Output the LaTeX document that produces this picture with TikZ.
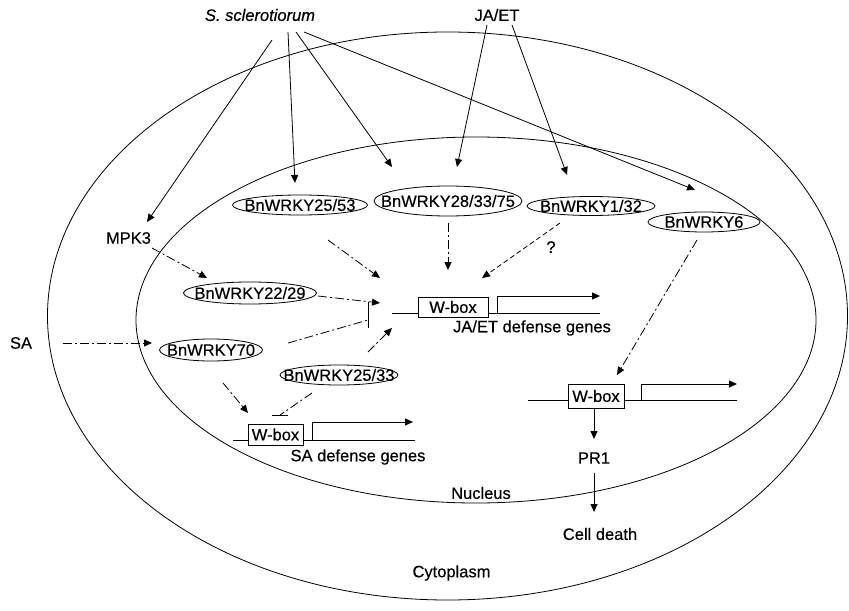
\documentclass[tikz,border=0pt]{standalone}
\usepackage{fontspec}
\setmainfont{Liberation Sans}[FakeBold=0.4]
\usetikzlibrary{shapes.geometric,arrows.meta,calc}
\begin{document}
\begin{tikzpicture}[x=1bp,y=-1bp, line width=0.8bp,
  every node/.style={font=\fontsize{16.5bp}{19bp}\selectfont},
  lbl/.style={inner sep=0pt},
  wk/.style={draw, ellipse, inner sep=0pt},
  wbox/.style={draw, fill=white, inner sep=0pt},
  tip/.style={-{Triangle[length=8bp,width=7bp]}},
  dd/.style={dash pattern=on 9bp off 3bp on 2bp off 3bp},
  ds/.style={dash pattern=on 5bp off 3bp}]
\useasboundingbox (0,0) rectangle (849,611);
\fill[white] (0,0) rectangle (849,611);
% compartments
\draw (447.5,316) ellipse [x radius=400bp, y radius=284bp];
\draw (476,320) ellipse [x radius=340bp, y radius=183bp];
% text labels
\node[lbl] (ss) at (260,15) {\textit{S. sclerotiorum}};
\node[lbl] (jaet) at (497,15) {JA/ET};
\node[lbl] (mpk) at (128.5,238) {MPK3};
\node[lbl] (sa) at (21,343) {SA};
\node[lbl] (q) at (551,247) {?};
\node[lbl] (jag) at (532,328) {JA/ET defense genes};
\node[lbl] (sag) at (358,457) {SA defense genes};
\node[lbl] (pr1) at (594,458) {PR1};
\node[lbl] (cd) at (600,534) {Cell death};
\node[lbl] (nuc) at (481,493) {Nucleus};
\node[lbl] (cyto) at (451.5,573) {Cytoplasm};
% WRKY ellipses
\node[wk, minimum width=135bp, minimum height=20bp] (e2553) at (300,205) {\makebox[0pt]{BnWRKY25/53}};
\node[wk, minimum width=148bp, minimum height=30bp] (e2833) at (448,201) {\makebox[0pt]{BnWRKY28/33/75}};
\node[wk, minimum width=128bp, minimum height=19bp] (e132) at (591,206) {\makebox[0pt]{BnWRKY1/32}};
\node[wk, minimum width=112bp, minimum height=20bp] (e6) at (704,222) {\makebox[0pt]{BnWRKY6}};
\node[wk, minimum width=133bp, minimum height=22bp] (e2229) at (250,293) {\makebox[0pt]{BnWRKY22/29}};
\node[wk, minimum width=103bp, minimum height=22bp] (e70) at (211,350) {\makebox[0pt]{BnWRKY70}};
\node[wk, minimum width=118bp, minimum height=20bp] (e2533) at (339,375) {\makebox[0pt]{BnWRKY25/33}};
% genes: JA/ET
\coordinate (wb1c) at (453,307);
\draw ($(wb1c)+(-61,6)$) -- ($(wb1c)+(147,6)$);
\draw[tip] ($(wb1c)+(44,6)$) -- ($(wb1c)+(44,-11)$) -- ($(wb1c)+(147,-11)$);
\node[wbox, minimum width=70bp, minimum height=20bp] (wb1) at (wb1c) {W-box};
% genes: SA
\coordinate (wb2c) at (275.5,434.5);
\draw ($(wb2c)+(-42.5,5.5)$) -- ($(wb2c)+(139.5,5.5)$);
\draw[tip] ($(wb2c)+(36.5,5.5)$) -- ($(wb2c)+(36.5,-12.5)$) -- ($(wb2c)+(137.5,-12.5)$);
\node[wbox, minimum width=55bp, minimum height=21bp] (wb2) at (wb2c) {W-box};
% genes: PR1
\coordinate (wb3c) at (596,396);
\draw ($(wb3c)+(-68,4)$) -- ($(wb3c)+(141,4)$);
\draw[tip] ($(wb3c)+(45,4)$) -- ($(wb3c)+(45,-12)$) -- ($(wb3c)+(141,-12)$);
\node[wbox, minimum width=56bp, minimum height=24bp] (wb3) at (wb3c) {W-box};
% S. sclerotiorum arrows
\draw[tip] ($(ss)+(12,25)$) -- ($(mpk)+(18.5,-16)$);
\draw[tip] ($(ss)+(28,17)$) -- ($(e2553)+(-5,-22)$);
\draw[tip] ($(ss)+(36,17)$) -- ($(e2833)+(-56,-34)$);
\draw[tip] ($(ss)+(44,17)$) -- ($(e6)+(-9,-32)$);
% JA/ET arrows
\draw[tip] ($(jaet)+(-10,10)$) -- ($(e2833)+(9,-34)$);
\draw[tip] ($(jaet)+(15,10)$) -- ($(e132)+(-24,-31)$);
% regulation
\draw[tip,dd] ($(mpk)+(23.5,10)$) -- ($(e2229)+(-43,-15)$);
\draw[tip,dd] ($(e2553)+(28,35)$) -- ($(wb1)+(-73,-29)$);
\draw[tip,dd] ($(e2229)+(68,3)$) -- ($(wb1)+(-73,-4)$);
\draw[tip,dd] ($(e2833)+(0,22)$) -- ($(wb1)+(-5,-37)$);
\draw[tip,ds] ($(e132)+(-31,17)$) -- ($(wb1)+(29,-29)$);
\draw[tip,dd] ($(e6)+(-7,18)$) -- ($(wb3)+(21,-21)$);
\draw[tip,dd] ($(sa)+(42,0)$) -- ($(e70)+(-59,-7)$);
\draw[dd] ($(e70)+(77,-7)$) -- ($(wb1)+(-85,13)$);
\draw ($(wb1)+(-85,-5)$) -- ($(wb1)+(-85,21)$);
\draw[tip,dd] ($(e2533)+(29,-23)$) -- ($(wb1)+(-61,21)$);
\draw[tip,dd] ($(e70)+(12,33)$) -- ($(wb2)+(-27.5,-21.5)$);
\draw[dd] ($(e2533)+(-27,18)$) -- ($(wb2)+(4.5,-19.5)$);
\draw ($(wb2)+(-3.5,-19.5)$) -- ($(wb2)+(12.5,-19.5)$);
\draw[tip] (wb3.south -| pr1) -- ($(pr1)+(0,-19)$);
\draw[tip] ($(pr1)+(0,15)$) -- ($(cd)+(-6,-22)$);
\end{tikzpicture}
\end{document}
